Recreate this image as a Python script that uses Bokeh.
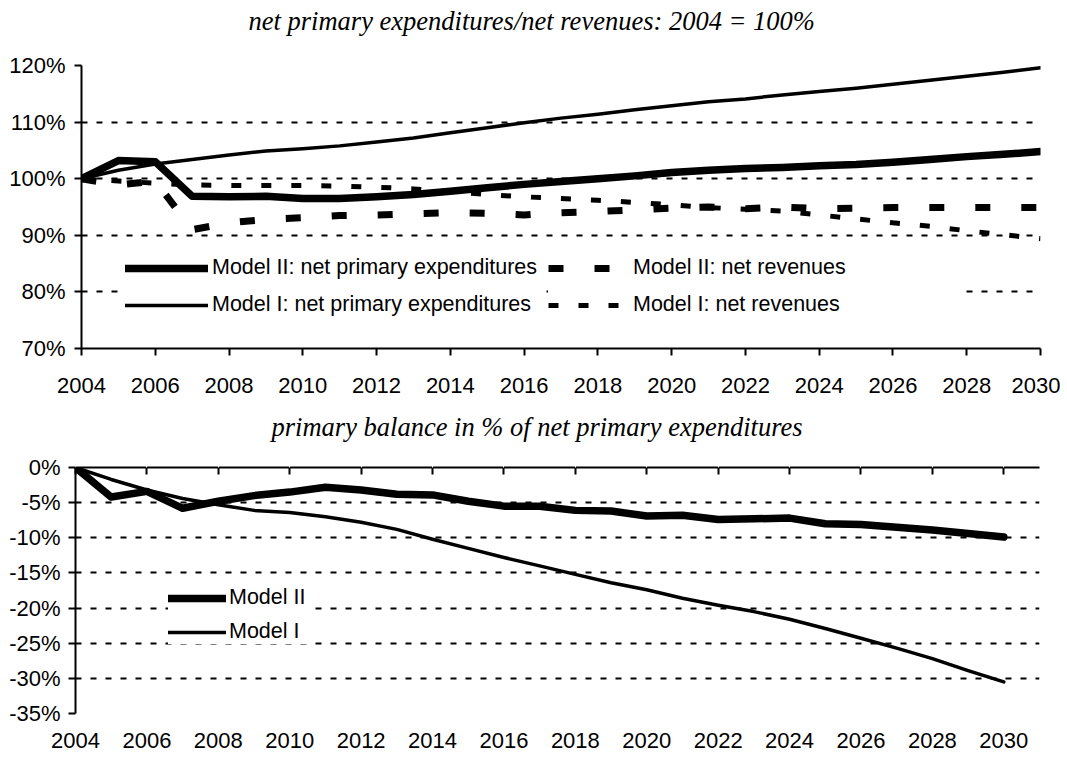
from bokeh.plotting import figure
from bokeh.models import Range1d, FixedTicker, Legend, LegendItem, LinearAxis, Title
from bokeh.layouts import column
from bokeh.embed import file_html
from bokeh.resources import INLINE

# ---------------- data ----------------
years = list(range(2004, 2031))

# top chart: index, 2004 = 100
m2_exp = [100.0, 103.2, 103.0, 96.9, 96.8, 96.9, 96.5, 96.5, 96.8, 97.2, 97.8, 98.4, 99.0,
          99.5, 100.0, 100.5, 101.1, 101.5, 101.8, 102.0, 102.3, 102.5, 102.9, 103.4, 103.9,
          104.3, 104.8]
m1_exp = [100.0, 101.5, 102.6, 103.4, 104.2, 104.9, 105.3, 105.8, 106.5, 107.2, 108.1, 109.0,
          109.9, 110.7, 111.4, 112.2, 112.9, 113.6, 114.1, 114.8, 115.4, 116.0, 116.7, 117.4,
          118.1, 118.8, 119.6]
m2_rev = [100.0, 98.9, 99.6, 91.0, 92.2, 92.8, 93.1, 93.5, 93.6, 93.8, 94.0, 93.9, 93.6, 94.0,
          94.2, 94.5, 94.8, 95.0, 94.7, 95.0, 94.7, 94.8, 94.9, 94.9, 94.9, 94.9, 94.9]
m1_rev = [100.0, 99.6, 99.2, 98.9, 98.8, 98.8, 98.8, 98.7, 98.5, 98.2, 97.7, 97.2, 96.8, 96.5,
          96.2, 95.8, 95.4, 94.9, 94.6, 94.3, 93.6, 92.9, 92.2, 91.6, 90.8, 90.1, 89.4]

# bottom chart: primary balance in % of net primary expenditures
m2_bal = [0.0, -4.2, -3.4, -5.8, -4.8, -4.0, -3.5, -2.8, -3.2, -3.8, -3.9, -4.8, -5.5, -5.5,
          -6.1, -6.2, -6.9, -6.8, -7.4, -7.3, -7.2, -8.0, -8.1, -8.5, -8.9, -9.4, -9.9]
m1_bal = [0.0, -1.7, -3.2, -4.4, -5.3, -6.1, -6.4, -7.0, -7.8, -8.8, -10.2, -11.5, -12.8,
          -14.0, -15.2, -16.4, -17.4, -18.6, -19.6, -20.5, -21.6, -22.9, -24.3, -25.7, -27.2,
          -28.9, -30.5]

year_ticks = list(range(2004, 2031, 2))
top_y_ticks = [70, 80, 90, 100, 110, 120]
bot_y_ticks = [-35, -30, -25, -20, -15, -10, -5, 0]

title_top = "net primary expenditures/net revenues: 2004 = 100%"
title_bot = "primary balance in % of net primary expenditures"
labels_top = ["Model II: net primary expenditures", "Model I: net primary expenditures",
              "Model II: net revenues", "Model I: net revenues"]
labels_bot = ["Model II", "Model I"]

SANS = "Liberation Sans"
SERIF = "Liberation Serif"
FS_TICK = "22px"
FS_LEG = "21.5px"
FS_TITLE = "26.5px"


def style_common(p):
    p.outline_line_color = None
    p.background_fill_color = "white"
    p.border_fill_color = "white"
    p.xgrid.grid_line_color = None
    p.ygrid.grid_line_color = "black"
    p.ygrid.grid_line_width = 2
    p.ygrid.grid_line_dash = "6 9"
    p.frame_align = False


def style_yaxis(ax, ticks, standoff):
    ax.ticker = FixedTicker(ticks=ticks)
    ax.major_label_overrides = {t: f"{t}%" for t in ticks}
    ax.major_label_text_font = SANS
    ax.major_label_text_font_size = FS_TICK
    ax.major_label_text_color = "black"
    ax.major_label_standoff = standoff
    ax.axis_line_width = 2
    ax.axis_line_color = "black"
    ax.major_tick_line_width = 2
    ax.major_tick_line_color = "black"
    ax.major_tick_in = 0
    ax.major_tick_out = 7
    ax.minor_tick_line_color = None


def style_xlabels(ax):
    ax.ticker = FixedTicker(ticks=year_ticks)
    ax.major_label_overrides = {t: str(t) for t in year_ticks}
    ax.major_label_text_font = SANS
    ax.major_label_text_font_size = FS_TICK
    ax.major_label_text_color = "black"
    ax.minor_tick_line_color = None


def spacer_axis(h):
    # invisible (white) ticks that only reserve vertical room between frame and title
    return LinearAxis(ticker=FixedTicker(ticks=year_ticks), axis_line_color=None,
                      major_tick_line_color="white", major_tick_line_width=1,
                      minor_tick_line_color=None,
                      major_tick_in=0, major_tick_out=h, minor_tick_out=0,
                      major_label_standoff=0, major_label_text_font_size="1px",
                      major_label_text_color=None)


def add_title(p, text, offset, gap):
    p.add_layout(spacer_axis(gap), "above")
    p.add_layout(Title(text=text, text_font=SERIF, text_font_style="italic",
                       text_font_size=FS_TITLE, text_color="black", align="left",
                       offset=offset, standoff=6), "above")


# ---------------- top chart ----------------
p1 = figure(width=1060, height=405, output_backend="svg", toolbar_location=None,
            x_range=Range1d(2004, 2030), y_range=Range1d(70, 120),
            min_border_left=81, min_border_right=20, min_border_top=65, min_border_bottom=57)
style_common(p1)
style_yaxis(p1.yaxis[0], top_y_ticks, 9)
xa = p1.xaxis[0]
style_xlabels(xa)
xa.axis_line_width = 2
xa.major_tick_line_width = 2
xa.major_tick_in = 0
xa.major_tick_out = 7
xa.major_label_standoff = 22
add_title(p1, title_top, 167, 27)

r_m2e = p1.line(years, m2_exp, line_width=7.5, color="black", line_cap="round", line_join="round")
r_m1e = p1.line(years, m1_exp, line_width=3.5, color="black", line_cap="round", line_join="round")
r_m2r = p1.line(years, m2_rev, line_width=7, color="black", line_dash="15 31")
r_m1r = p1.line(years, m1_rev, line_width=5, color="black", line_dash="10 20")

common_leg = dict(border_line_color=None, background_fill_color="white", background_fill_alpha=1.0,
                  label_text_font=SANS, label_text_font_size=FS_LEG, label_text_color="black",
                  margin=0, glyph_height=24, label_height=24, spacing=12)
leg1 = Legend(items=[LegendItem(label=labels_top[0], renderers=[r_m2e]),
                     LegendItem(label=labels_top[1], renderers=[r_m1e])],
              location=(44, 31), padding=10, glyph_width=83, label_standoff=4, label_width=332,
              **common_leg)
leg2 = Legend(items=[LegendItem(label=labels_top[2], renderers=[r_m2r]),
                     LegendItem(label=labels_top[3], renderers=[r_m1r])],
              location=(467, 31), padding=10, glyph_width=72, label_standoff=13, label_width=327,
              **common_leg)
p1.add_layout(leg1)
p1.add_layout(leg2)

# ---------------- bottom chart ----------------
p2 = figure(width=1060, height=353, output_backend="svg", toolbar_location=None,
            x_range=Range1d(2004, 2031), y_range=Range1d(-35, 0),
            min_border_left=75, min_border_right=21, min_border_top=62, min_border_bottom=45)
style_common(p2)
style_yaxis(p2.yaxis[0], bot_y_ticks, 8)
xb = p2.xaxis[0]
style_xlabels(xb)
xb.axis_line_color = None
xb.major_tick_line_color = None
xb.major_tick_in = 0
xb.major_tick_out = 0
xb.major_label_standoff = 19

top_ax = LinearAxis(ticker=FixedTicker(ticks=year_ticks), major_label_text_font_size="1px",
                    major_label_text_color=None, major_label_standoff=0,
                    major_tick_in=7, major_tick_out=0,
                    axis_line_width=2, axis_line_color="black", major_tick_line_width=2,
                    major_tick_line_color="black", minor_tick_line_color=None)
p2.add_layout(top_ax, "above")
add_title(p2, title_bot, 196, 23)

r_b2 = p2.line(years, m2_bal, line_width=7.5, color="black", line_cap="round", line_join="round")
r_b1 = p2.line(years, m1_bal, line_width=3.5, color="black", line_cap="round", line_join="round")

leg3 = Legend(items=[LegendItem(label=labels_bot[0], renderers=[r_b2]),
                     LegendItem(label=labels_bot[1], renderers=[r_b1])],
              location=(93, 69), padding=8, glyph_width=58, label_standoff=3, label_width=80,
              border_line_color=None, background_fill_color="white", background_fill_alpha=1.0,
              label_text_font=SANS, label_text_font_size=FS_LEG, label_text_color="black",
              margin=0, glyph_height=24, label_height=24, spacing=9)
p2.add_layout(leg3)

layout = column(p1, p2, spacing=0)
open("out.html", "w").write(file_html(layout, INLINE))
